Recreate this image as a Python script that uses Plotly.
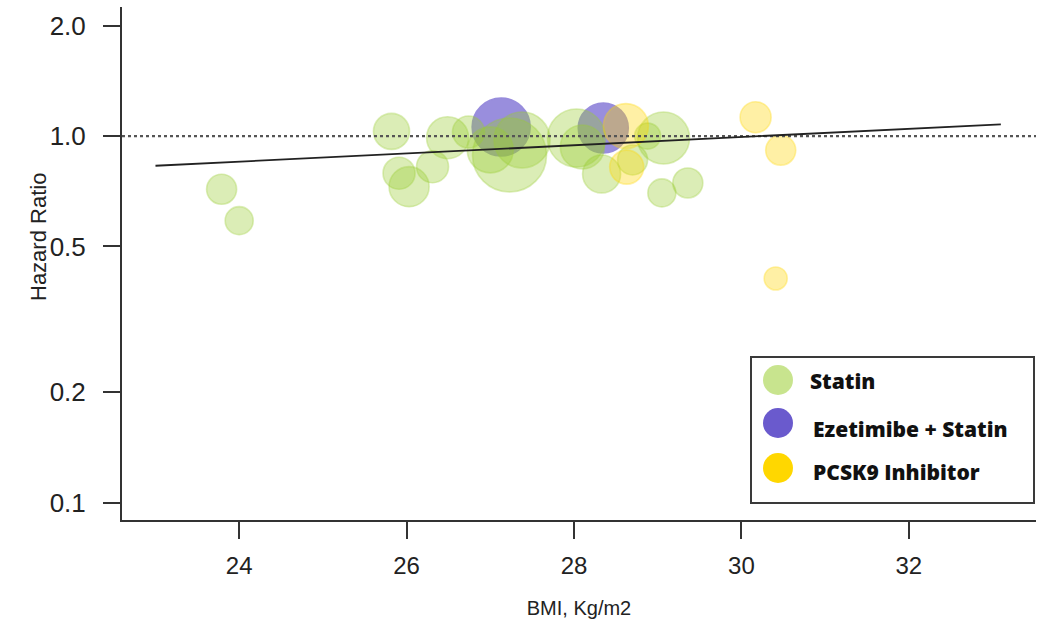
import plotly.graph_objects as go
import numpy as np

# ---------------- data ----------------
statin_bmi = [23.79, 24.00, 25.82, 25.91, 26.03, 26.31, 26.49, 26.74, 27.00, 27.23, 27.38,
              28.03, 28.10, 28.33, 28.70, 28.88, 29.07, 29.05, 29.36]
statin_hr = [0.716, 0.588, 1.03, 0.792, 0.728, 0.825, 0.99, 1.026, 0.917, 0.888, 0.976,
             0.988, 0.934, 0.788, 0.861, 1.0, 0.988, 0.700, 0.745]
statin_w = [30, 28, 36, 32, 40, 32, 42, 32, 46, 74, 56,
            58, 44, 38, 30, 26, 52, 28, 30]

eze_bmi = [27.13, 28.35]
eze_hr = [1.059, 1.052]
eze_w = [58, 50]

pcsk_bmi = [28.62, 28.63, 30.17, 30.47, 30.41]
pcsk_hr = [1.065, 0.823, 1.126, 0.915, 0.409]
pcsk_w = [45, 34, 31, 30, 23]

reg_bmi = [23.0, 33.1]
reg_hr = [0.83, 1.077]

series_names = ["Statin", "Ezetimibe + Statin", "PCSK9 Inhibitor"]
x_ticks = [24, 26, 28, 30, 32]
y_ticks = [0.1, 0.2, 0.5, 1.0, 2.0]
y_ticktext = ["0.1", "0.2", "0.5", "1.0", "2.0"]
x_range = [22.6, 33.52]
y_range = [0.0897, 2.25]

# ---------------- styles ----------------
c_statin = "rgba(154,205,50,0.5)"
c_eze = "rgba(106,90,205,0.97)"
c_pcsk = "rgba(255,215,0,0.5)"
leg_colors = ["rgba(154,205,50,0.55)", "#6a5acd", "#ffd700"]
axis_col = "#333333"
base = "Liberation Sans, Arial, sans-serif"
xtick_font = dict(family=base, size=24, color="#222222")
ytick_font = dict(family=base, size=26, color="#222222")
title_font = dict(family=base, size=22, color="#222222")

fig = go.Figure()

def bubbles(x, y, w, col, name):
    return go.Scatter(x=x, y=y, mode="markers", name=name, showlegend=False,
                      marker=dict(size=w, sizemode="diameter", color=col,
                                  line=dict(color=col, width=1.6)))

fig.add_trace(bubbles(eze_bmi, eze_hr, eze_w, c_eze, series_names[1]))
fig.add_trace(bubbles(statin_bmi, statin_hr, statin_w, c_statin, series_names[0]))
fig.add_trace(bubbles(pcsk_bmi, pcsk_hr, pcsk_w, c_pcsk, series_names[2]))

# reference line HR = 1
fig.add_trace(go.Scatter(x=x_range, y=[1, 1], mode="lines",
                         line=dict(color="#555555", width=2.2, dash="dot"),
                         showlegend=False, hoverinfo="skip"))

# meta-regression line
fig.add_trace(go.Scatter(x=reg_bmi, y=reg_hr, mode="lines",
                         line=dict(color="#222222", width=1.8),
                         showlegend=False, hoverinfo="skip"))

# ---------------- custom legend ----------------
L, R, T, B, W, H = 122, 1036, 7, 520, 1050, 638
pw, ph = R - L, B - T
def px(x):
    return (x - L) / pw
def py(y):
    return (B - y) / ph

leg_marker_y = [380, 423, 468]
leg_text_y = [381, 429, 472]
fig.add_trace(go.Scatter(x=[px(778)] * 3, y=[py(v) for v in leg_marker_y],
                         xaxis="x2", yaxis="y2", mode="markers", showlegend=False,
                         hoverinfo="skip",
                         marker=dict(size=30, color=leg_colors, line=dict(width=0))))
fig.add_shape(type="rect", xref="paper", yref="paper",
              x0=px(751), x1=px(1034), y0=py(503), y1=py(357),
              line=dict(color="#3a3a3a", width=2), fillcolor="rgba(255,255,255,0)",
              layer="above")
for name, ty, tx in zip(series_names, leg_text_y, [808, 811, 811]):
    fig.add_annotation(x=px(tx), y=py(ty), xref="paper", yref="paper",
                       text=name, showarrow=False,
                       xanchor="left", yanchor="middle",
                       font=dict(family="Open Sans, Lato, sans-serif", size=21,
                                 weight=800, color="#111111"))

# y axis title (placed as in the original, slightly above centre)
fig.add_annotation(x=px(38), y=py(237), xref="paper", yref="paper",
                   text="Hazard Ratio", textangle=-90, showarrow=False,
                   xanchor="center", yanchor="middle", font=title_font)

fig.update_layout(
    width=W, height=H,
    margin=dict(l=L, r=W - R, t=T, b=H - B, autoexpand=False),
    paper_bgcolor="white", plot_bgcolor="white",
    showlegend=False,
    xaxis=dict(range=x_range, tickvals=x_ticks, showgrid=False, zeroline=False,
               showline=True, linecolor=axis_col, linewidth=2,
               ticks="outside", ticklen=17, tickwidth=2, tickcolor=axis_col,
               tickfont=xtick_font, ticklabelstandoff=6,
               title=dict(text="BMI, Kg/m2", font=dict(family=base, size=20, color="#222222"),
                          standoff=23)),
    yaxis=dict(type="log", range=[np.log10(y_range[0]), np.log10(y_range[1])],
               tickvals=y_ticks, ticktext=y_ticktext, showgrid=False, zeroline=False,
               showline=True, linecolor=axis_col, linewidth=2,
               ticks="outside", ticklen=17, tickwidth=2, tickcolor=axis_col,
               tickfont=ytick_font, ticklabelstandoff=12),
    xaxis2=dict(overlaying="x", range=[0, 1], visible=False),
    yaxis2=dict(overlaying="y", range=[0, 1], visible=False),
)

fig.write_html("out.html", config={"displayModeBar": False},
               post_script="document.body.style.margin='0';")
